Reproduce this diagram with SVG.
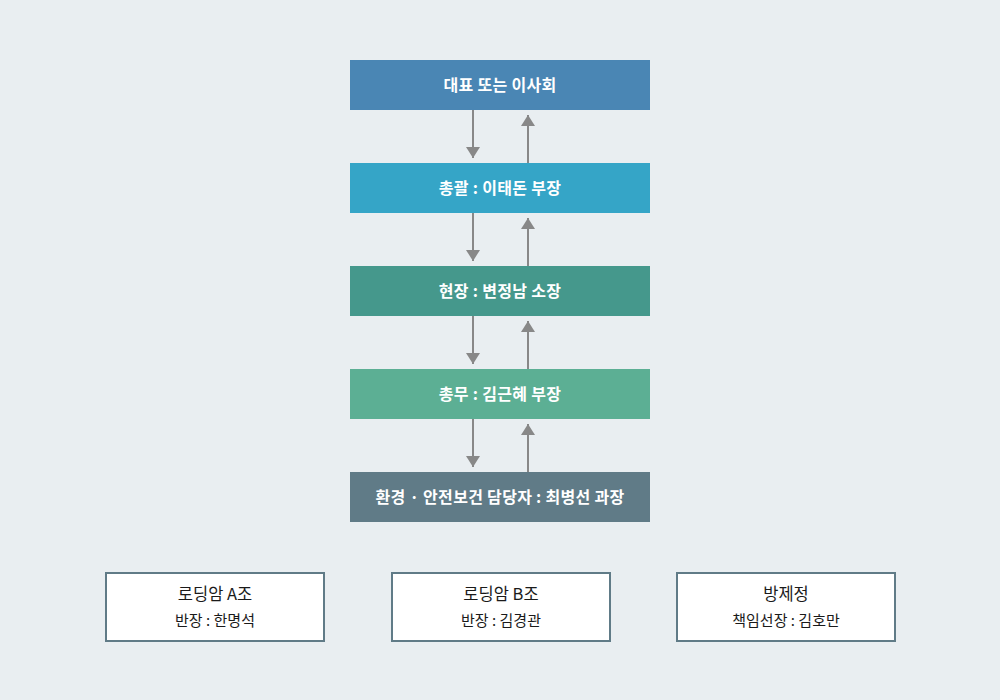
<svg xmlns="http://www.w3.org/2000/svg" width="1000" height="700" viewBox="0 0 1000 700">
<defs>
<marker id="ah" markerWidth="11" markerHeight="14" refX="11" refY="7" orient="auto" markerUnits="userSpaceOnUse" viewBox="0 0 11 14">
<path d="M0,0 L11,7 L0,14 Z" fill="#888888"/>
</marker>
<style>
.main{font-family:"Noto Sans CJK KR","Noto Sans",sans-serif;font-size:16px;font-weight:bold;fill:#ffffff;text-anchor:middle;letter-spacing:0.3px}
.sub1{font-family:"Noto Sans CJK KR","Noto Sans",sans-serif;font-size:16.5px;fill:#1a1a1a;text-anchor:middle}
.sub2{font-family:"Noto Sans CJK KR","Noto Sans",sans-serif;font-size:15px;fill:#1a1a1a;text-anchor:middle}
.team{fill:#ffffff;stroke:#607b87;stroke-width:2}
.conn{stroke:#888888;stroke-width:2;fill:none;marker-end:url(#ah)}
</style>
</defs>
<rect width="1000" height="700" fill="#e9eef1"/>
<g id="n1"><rect x="350" y="60" width="300" height="50" fill="#4a86b4"/><text class="main" x="500" y="91">대표 또는 이사회</text></g>
<g id="n2"><rect x="350" y="163" width="300" height="50" fill="#35a5c7"/><text class="main" x="500" y="194">총괄 : 이태돈 부장</text></g>
<g id="n3"><rect x="350" y="266" width="300" height="50" fill="#45988c"/><text class="main" x="500" y="297">현장 : 변정남 소장</text></g>
<g id="n4"><rect x="350" y="369" width="300" height="50" fill="#5caf94"/><text class="main" x="500" y="400">총무 : 김근혜 부장</text></g>
<g id="n5"><rect x="350" y="472" width="300" height="50" fill="#607b87"/><text class="main" x="500" y="503">환경 · 안전보건 담당자 : 최병선 과장</text></g>
<g id="connectors">
<line class="conn" x1="473" y1="110" x2="473" y2="158"/>
<line class="conn" x1="528" y1="163" x2="528" y2="115"/>
<line class="conn" x1="473" y1="213" x2="473" y2="261"/>
<line class="conn" x1="528" y1="266" x2="528" y2="218"/>
<line class="conn" x1="473" y1="316" x2="473" y2="364"/>
<line class="conn" x1="528" y1="369" x2="528" y2="321"/>
<line class="conn" x1="473" y1="419" x2="473" y2="467"/>
<line class="conn" x1="528" y1="472" x2="528" y2="424"/>
</g>
<g id="teamA"><rect class="team" x="106" y="573" width="218" height="68"/><text class="sub1" x="215" y="600">로딩암 A조</text><text class="sub2" x="215" y="626">반장 : 한명석</text></g>
<g id="teamB"><rect class="team" x="392" y="573" width="218" height="68"/><text class="sub1" x="501" y="600">로딩암 B조</text><text class="sub2" x="501" y="626">반장 : 김경관</text></g>
<g id="teamC"><rect class="team" x="677" y="573" width="218" height="68"/><text class="sub1" x="786" y="600">방제정</text><text class="sub2" x="786" y="626">책임선장 : 김호만</text></g>
</svg>
